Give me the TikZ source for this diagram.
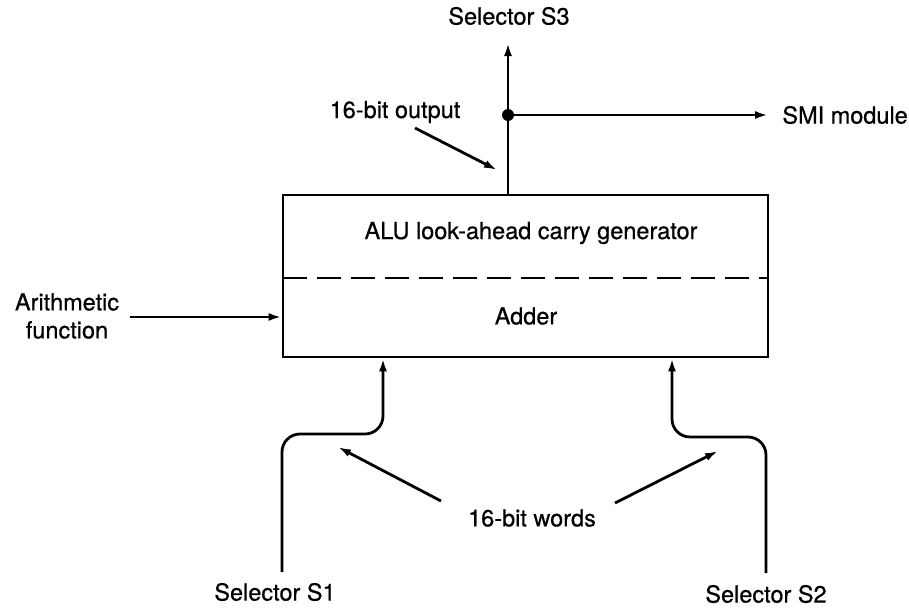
\documentclass[tikz,border=0pt]{standalone}
\usepackage{fontspec}
\setmainfont{TeX Gyre Heros}
\newfontfamily\lblfont[FakeBold=0.6]{TeX Gyre Heros}
\usetikzlibrary{arrows.meta}
\begin{document}
\begin{tikzpicture}[x=1pt,y=-1pt,
  line width=2.8pt,
  lbl/.style={font=\lblfont\fontsize{23.5}{28}\selectfont, inner sep=0pt},
  arr/.style={-{Latex[length=13pt,width=8pt]}},
  dashline/.style={dash pattern=on 24pt off 10pt}]
\useasboundingbox (0,0) rectangle (909,608);
% main box
\node[draw, rectangle, minimum width=485pt, minimum height=162pt, inner sep=0pt] (alu) at (525.5,276) {};
\coordinate (dl) at (283,278);
\coordinate (dr) at (768,278);
\draw[dashline] (dl) -- (dr);
\node[lbl] (carry) at (531,233) {ALU look-ahead carry generator};
\node[lbl] (adder) at (526,316) {Adder};
% output
\coordinate (outbase) at (508,195);
\coordinate (junc) at (508,115);
\coordinate (s3tip) at (508,43);
\coordinate (smitip) at (768,115);
\draw (outbase) -- (junc);
\draw[arr] (junc) -- (s3tip);
\draw[arr] (junc) -- (smitip);
\fill (junc) circle (6pt);
\node[lbl] (s3) at (509,16) {Selector S3};
\node[lbl, anchor=west] (smi) at (781,115) {SMI module};
\node[lbl] (outlbl) at (395,112) {16-bit output};
\coordinate (outtail) at (415,128);
\coordinate (outtip) at (497,170);
\draw[arr] (outtail) -- (outtip);
% arithmetic function
\node[lbl, align=center] (arith) at (67,316) {Arithmetic\\function};
\coordinate (afstart) at (130,317);
\draw[arr] (afstart) -- (alu.west |- afstart);
% inputs
\coordinate (s1bot) at (282,572);
\coordinate (s1jog) at (282,434);
\coordinate (s1up) at (383,434);
\coordinate (s2bot) at (766,573);
\coordinate (s2jog) at (766,437);
\coordinate (s2up) at (672,437);
\draw[arr, rounded corners=18pt] (s1bot) -- (s1jog) -- (s1up) -- (s1up |- alu.south);
\draw[arr, rounded corners=18pt] (s2bot) -- (s2jog) -- (s2up) -- (s2up |- alu.south);
\node[lbl] (s1) at (275,592) {Selector S1};
\node[lbl] (s2) at (766,594) {Selector S2};
% 16-bit words
\node[lbl] (words) at (532,518) {16-bit words};
\coordinate (wltail) at (441,501);
\coordinate (wltip) at (338,447);
\coordinate (wrtail) at (615,503);
\coordinate (wrtip) at (718,451);
\draw[arr] (wltail) -- (wltip);
\draw[arr] (wrtail) -- (wrtip);
\end{tikzpicture}
\end{document}
